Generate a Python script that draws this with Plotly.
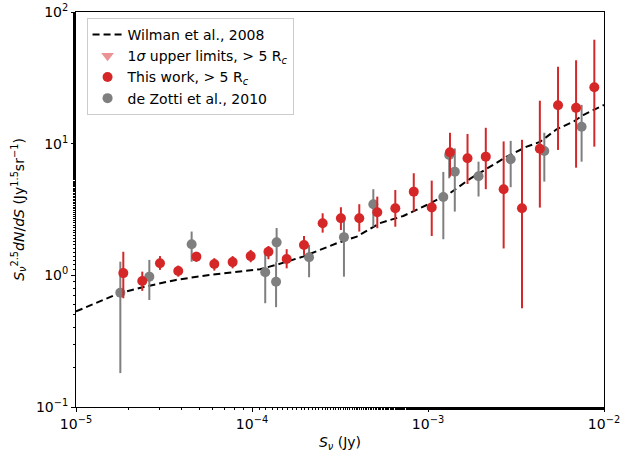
import plotly.graph_objects as go
import numpy as np

# ---- Data ----
# Wilman et al., 2008 model curve
wil_s = [1.0e-5, 1.30e-5, 1.76e-5, 2.39e-5, 2.97e-5, 3.70e-5, 5.71e-5, 8.85e-5,
         1.11e-4, 1.37e-4, 1.95e-4, 3.03e-4, 3.94e-4, 5.33e-4, 7.24e-4, 9.84e-4,
         1.33e-3, 1.73e-3, 2.25e-3, 2.80e-3, 3.64e-3, 4.32e-3, 5.38e-3, 6.70e-3,
         7.62e-3, 1.0e-2]
wil_v = [0.532, 0.614, 0.731, 0.813, 0.871, 0.923, 1.007, 1.067,
         1.112, 1.20, 1.387, 1.753, 1.967, 2.49, 2.825, 3.42,
         4.20, 5.40, 6.69, 7.97, 9.49, 10.3, 12.86, 14.69,
         16.5, 19.7]

# This work, > 5 Rc
tw_s = [1.857e-5, 2.38e-5, 3.00e-5, 3.81e-5, 4.83e-5, 6.11e-5, 7.76e-5, 9.83e-5,
        1.24e-4, 1.574e-4, 1.974e-4, 2.52e-4, 3.20e-4, 4.07e-4, 5.15e-4, 6.52e-4,
        8.30e-4, 1.05e-3, 1.333e-3, 1.677e-3, 2.13e-3, 2.69e-3, 3.42e-3, 4.32e-3,
        5.48e-3, 6.94e-3, 8.81e-3]
tw_v = [1.04, 0.907, 1.235, 1.08, 1.387, 1.22, 1.26, 1.40,
        1.51, 1.33, 1.70, 2.49, 2.71, 2.71, 3.01, 3.23,
        4.32, 3.28, 8.6, 7.75, 7.97, 4.51, 3.23, 9.16,
        19.6, 18.7, 26.8]
tw_lo = [0.67, 0.762, 1.10, 0.977, 1.27, 1.086, 1.13, 1.257,
         1.325, 1.13, 1.43, 2.11, 2.21, 2.15, 2.28, 2.34,
         3.05, 1.99, 5.62, 4.94, 4.51, 1.60, 0.562, 3.27,
         8.96, 6.57, 9.49]
tw_hi = [1.51, 1.067, 1.40, 1.186, 1.51, 1.35, 1.40, 1.56,
         1.67, 1.58, 1.99, 2.96, 3.29, 3.47, 3.96, 4.45,
         5.96, 5.24, 12.1, 11.85, 13.2, 10.4, 10.7, 21.2,
         38.4, 43.0, 61.6]

# de Zotti et al., 2010
dz_s = [1.786e-5, 2.61e-5, 4.54e-5, 1.189e-4, 1.38e-4, 1.37e-4, 2.11e-4, 3.33e-4,
        4.89e-4, 1.222e-3, 1.32e-3, 1.42e-3, 1.937e-3, 2.95e-3, 4.58e-3, 7.46e-3]
dz_v = [0.739, 0.977, 1.72, 1.056, 1.78, 0.895, 1.37, 1.95,
        3.47, 3.94, 8.21, 6.13, 5.65, 7.61, 8.8, 13.46]
dz_lo = [0.181, 0.65, 1.27, 0.614, 1.26, 0.573, 0.967, 0.977,
         2.34, 1.88, 5.46, 3.05, 3.97, 4.67, 5.15, 7.3]
dz_hi = [1.27, 1.31, 2.15, 1.51, 2.29, 1.26, 1.70, 2.87,
         4.51, 6.1, 9.2, 9.2, 7.3, 10.5, 12.1, 19.7]

# 1-sigma upper limits (none within plotted range)
ul_s = []
ul_v = []

x_tickvals = [1e-5, 1e-4, 1e-3, 1e-2]
x_ticktext = ["10<sup>−5</sup>", "10<sup>−4</sup>", "10<sup>−3</sup>", "10<sup>−2</sup>"]
y_tickvals = [1e-1, 1e0, 1e1, 1e2]
y_ticktext = ["10<sup>−1</sup>", "10<sup>0</sup>", "10<sup>1</sup>", "10<sup>2</sup>"]

RED = "#d62728"
GRAY = "#7f7f7f"
FONT = "DejaVu Sans"

fig = go.Figure()

fig.add_trace(go.Scatter(
    x=wil_s, y=wil_v, mode="lines", name="Wilman et al., 2008",
    line=dict(color="black", width=2, dash="7px,4px"), legendrank=1))

fig.add_trace(go.Scatter(
    x=ul_s if ul_s else [None], y=ul_v if ul_v else [None], mode="markers",
    name="1<i>σ</i> upper limits, > 5 R<sub><i>c</i></sub>",
    marker=dict(symbol="triangle-down", color="#eb9394", size=11), legendrank=2))

dz_v_a = np.array(dz_v)
fig.add_trace(go.Scatter(
    x=dz_s, y=dz_v, mode="markers", name="de Zotti et al., 2010",
    marker=dict(color=GRAY, size=10),
    error_y=dict(type="data", symmetric=False,
                 array=np.array(dz_hi) - dz_v_a, arrayminus=dz_v_a - np.array(dz_lo),
                 color=GRAY, thickness=2, width=0),
    legendrank=4))

tw_v_a = np.array(tw_v)
fig.add_trace(go.Scatter(
    x=tw_s, y=tw_v, mode="markers", name="This work, > 5 R<sub><i>c</i></sub>",
    marker=dict(color=RED, size=10),
    error_y=dict(type="data", symmetric=False,
                 array=np.array(tw_hi) - tw_v_a, arrayminus=tw_v_a - np.array(tw_lo),
                 color=RED, thickness=2, width=0),
    legendrank=3))

axis_common = dict(
    type="log", showgrid=False, zeroline=False, showline=True, linecolor="black",
    linewidth=1, mirror=True, ticks="outside", ticklen=4, tickcolor="black",
    automargin=False,
    tickfont=dict(family=FONT, size=14, color="black"),
    minor=dict(ticks="outside", ticklen=2, tickcolor="black", showgrid=False),
)

fig.update_layout(
    width=622, height=458,
    margin=dict(l=76, r=18, t=12, b=51),
    paper_bgcolor="white", plot_bgcolor="white",
    font=dict(family=FONT, size=14, color="black"),
    showlegend=True,
    legend=dict(x=0.02, y=0.985, xanchor="left", yanchor="top",
                tracegroupgap=0,
                bgcolor="rgba(255,255,255,0.8)", bordercolor="#cccccc", borderwidth=1,
                font=dict(family=FONT, size=14, color="black")),
    xaxis=dict(axis_common, range=[-5, -2], tickvals=x_tickvals, ticktext=x_ticktext,
               title=dict(text="<i>S</i><sub><i>ν</i></sub> (Jy)", standoff=6,
                          font=dict(family=FONT, size=14))),
    yaxis=dict(axis_common, range=[-1, 2], tickvals=y_tickvals, ticktext=y_ticktext,
               title=dict(text="<i>S</i><sub><i>ν</i></sub><sup>2.5</sup><i>dN</i>/<i>dS</i> (Jy<sup>1.5</sup>sr<sup>−1</sup>)",
                          standoff=8, font=dict(family=FONT, size=14))),
)

fig.write_html("out.html")
